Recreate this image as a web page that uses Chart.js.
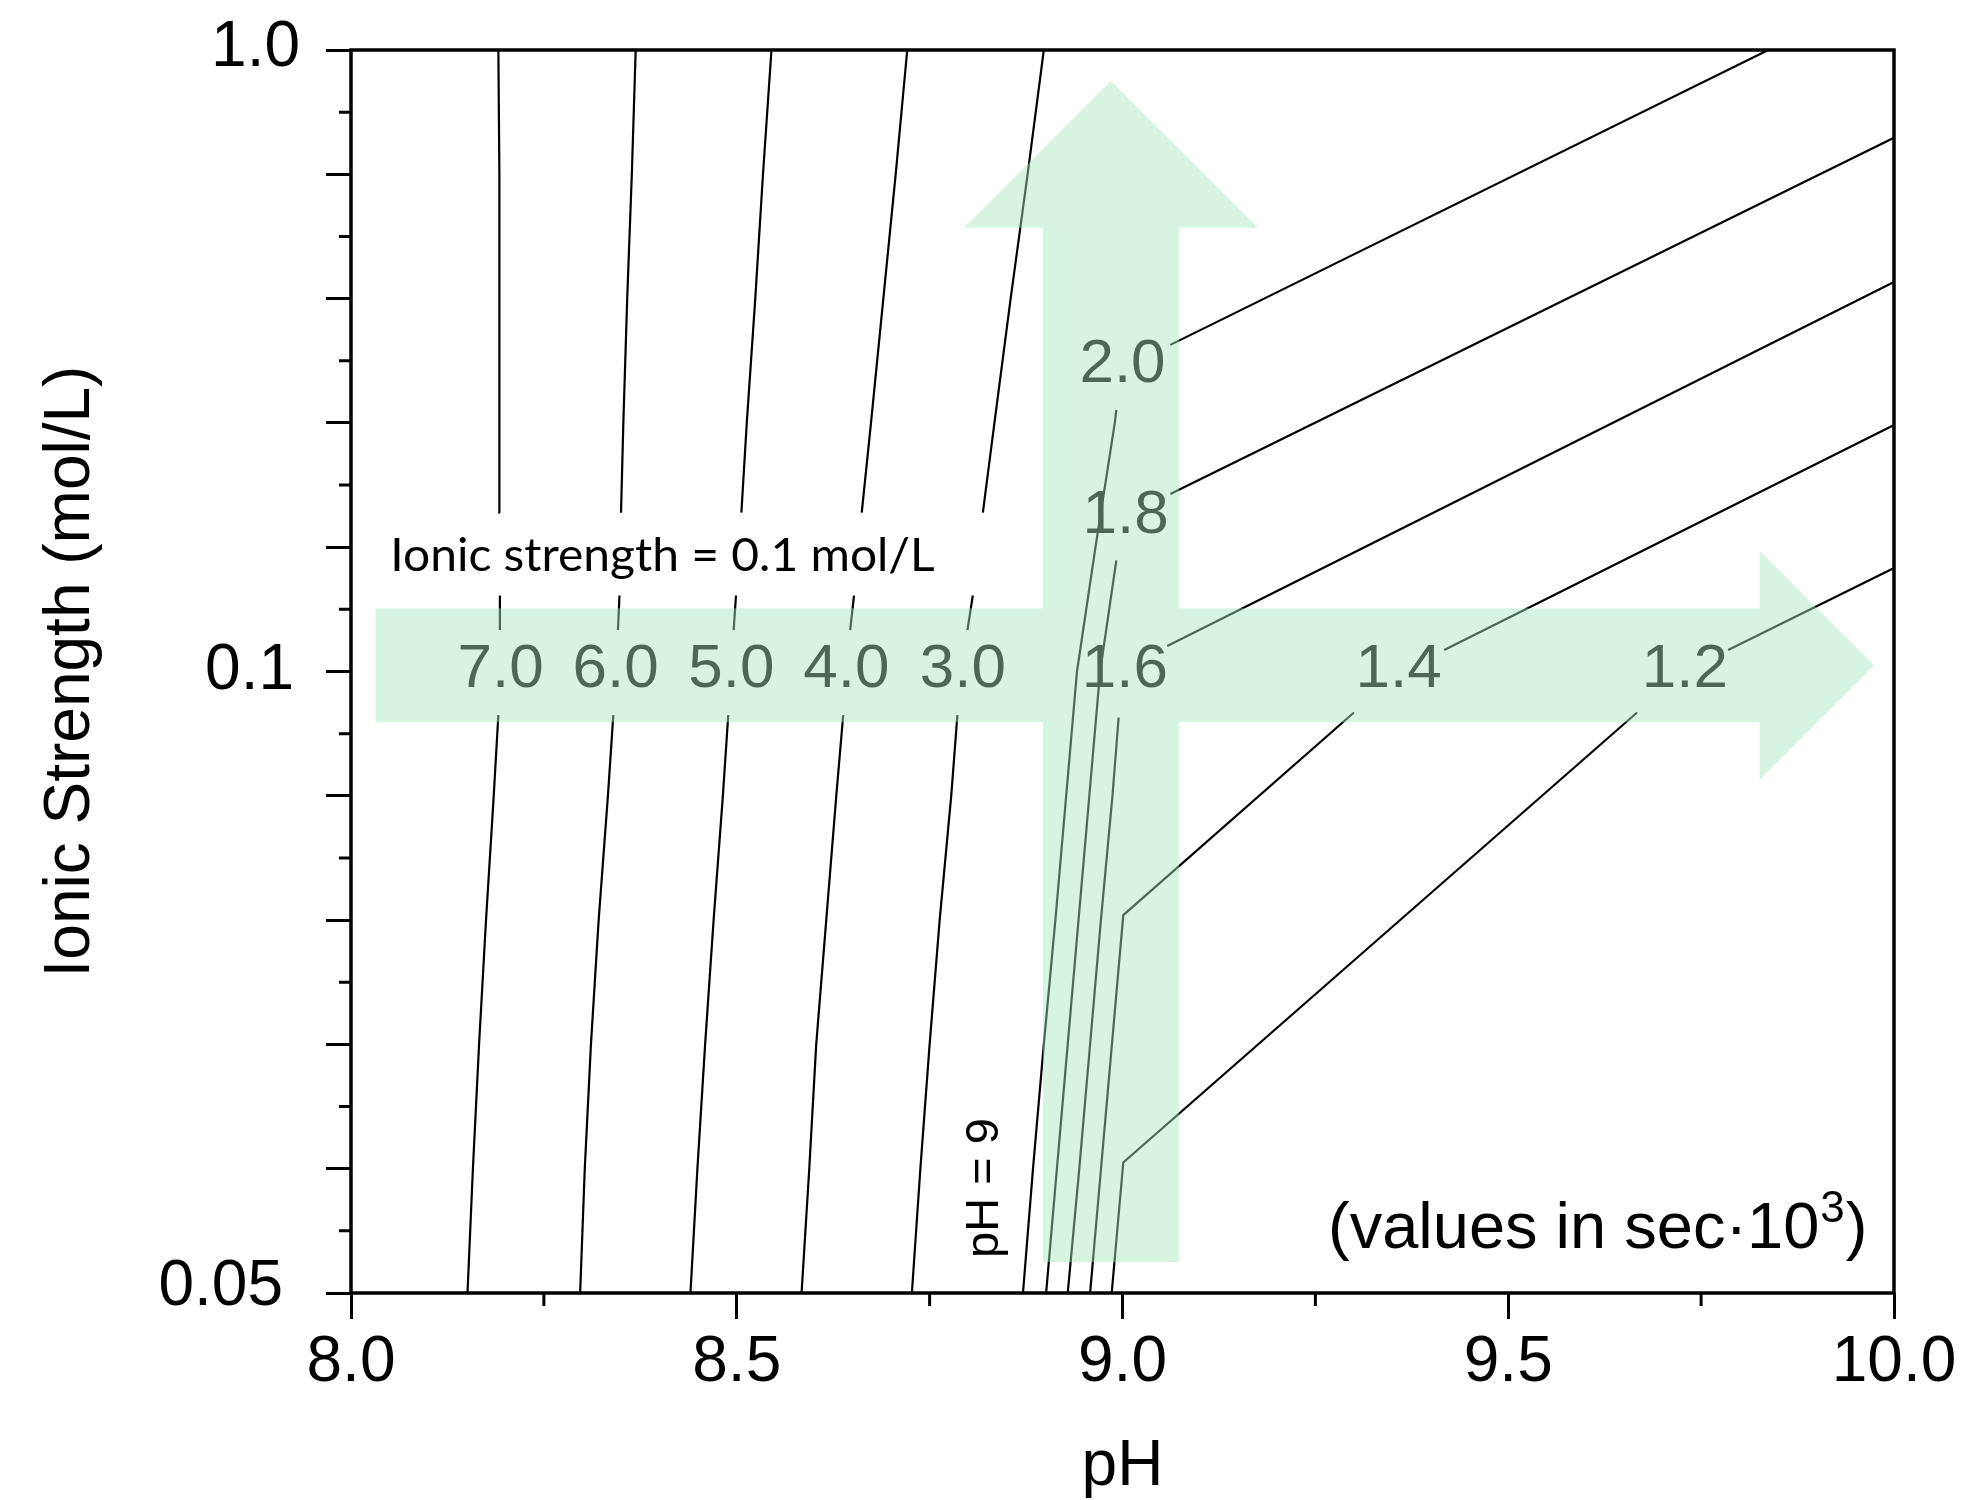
<!DOCTYPE html>
<html>
<head>
<meta charset="utf-8">
<script src="https://cdn.jsdelivr.net/npm/chart.js"></script>
<style>
  html, body { margin: 0; padding: 0; background: #fff; }
  canvas { display: block; }
</style>
</head>
<body>
<canvas id="mycanvas" width="1966" height="1500"></canvas>
<script>
// contour levels, values in sec*10^3
var levels = ['7.0', '6.0', '5.0', '4.0', '3.0', '2.0', '1.8', '1.6', '1.4', '1.2'];

// axis ticks
var xMajor = [8.0, 8.5, 9.0, 9.5, 10.0];
var xMinor = [8.25, 8.75, 9.25, 9.75];
var yTickText = ['0.05', '0.1', '1.0'];
var yTickIonic = [0.05, 0.1, 1.0];

// contour vertices: pH and ionic strength (mol/L), null = break for a label
var ionLeft = [0.05, 0.06, 0.07, 0.08, 0.09, 0.0965, null, 0.16, 0.21, null, 0.33, 0.46, 0.64, 0.82, 1.0];
var ph70 = [8.151, 8.158, 8.166, 8.175, 8.185, 8.191, null, 8.193, 8.193, null, 8.193, 8.193, 8.192, 8.192, 8.191];
var ph60 = [8.297, 8.303, 8.311, 8.321, 8.333, 8.340, null, 8.346, 8.348, null, 8.350, 8.353, 8.358, 8.364, 8.369];
var ph50 = [8.440, 8.449, 8.459, 8.470, 8.482, 8.489, null, 8.496, 8.499, null, 8.506, 8.513, 8.524, 8.534, 8.545];
var ph40 = [8.584, 8.594, 8.603, 8.616, 8.629, 8.638, null, 8.647, 8.652, null, 8.662, 8.674, 8.690, 8.706, 8.721];
var ph30 = [8.727, 8.738, 8.750, 8.763, 8.778, 8.786, null, 8.799, 8.806, null, 8.819, 8.834, 8.855, 8.877, 8.898];

var ph20 = [8.871, 8.884, 8.898, 8.913, 8.927, 8.941, 8.965, 8.990, 8.992, null, 9.062, 9.837];
var ion20 = [0.05, 0.06, 0.07, 0.08, 0.09, 0.10, 0.28, 0.46, 0.479, null, 0.573, 1.0];
var ph18 = [8.901, 8.915, 8.929, 8.943, 8.957, 8.971, 8.992, null, 9.062, 10.0];
var ion18 = [0.05, 0.06, 0.07, 0.08, 0.09, 0.10, 0.261, null, 0.357, 0.873];
var ph16 = [8.929, 8.944, 8.958, 8.972, 8.987, 8.995, null, 9.058, 10.0];
var ion16 = [0.05, 0.06, 0.07, 0.08, 0.09, 0.0963, null, 0.137, 0.664];
var ph14 = [8.958, 9.001, 9.300, null, 9.417, 10.0];
var ion14 = [0.05, 0.0804, 0.0967, null, 0.1311, 0.457];
var ph12 = [8.986, 9.001, 9.667, null, 9.785, 10.0];
var ion12 = [0.05, 0.0605, 0.0967, null, 0.1311, 0.2499];

// where each level label sits
var labelPH = [8.194, 8.343, 8.493, 8.642, 8.793, 9.000, 9.004, 9.003, 9.358, 9.729];
var labelIonic = [0.109, 0.109, 0.109, 0.109, 0.109, 0.551, 0.333, 0.109, 0.109, 0.109];

var FONT = '"Liberation Sans", Arial, Helvetica, sans-serif';
Chart.defaults.font.family = FONT;
Chart.defaults.color = '#000';

// the y axis is split: 0.05-0.1 on the lower half, 0.1-1.0 on the upper half
function toAxis(ion) {
	if (ion === null) return null;
	return ion <= 0.1 ? (ion - 0.05) / 0.005 : 10 + (ion - 0.1) / 0.09;
}

function makeLine(ph, ion) {
	var pts = [];
	for (var i = 0; i < ph.length; i++) {
		pts.push({x: ph[i], y: toAxis(ion[i])});
	}
	return {
		data: pts,
		showLine: true,
		borderColor: '#000',
		borderWidth: 2.2,
		pointRadius: 0,
		fill: false,
		spanGaps: false,
		tension: 0
	};
}

var datasets = [
	makeLine(ph70, ionLeft),
	makeLine(ph60, ionLeft),
	makeLine(ph50, ionLeft),
	makeLine(ph40, ionLeft),
	makeLine(ph30, ionLeft),
	makeLine(ph20, ion20),
	makeLine(ph18, ion18),
	makeLine(ph16, ion16),
	makeLine(ph14, ion14),
	makeLine(ph12, ion12)
];

// small nudges of the y tick labels, as in the original figure
var yLabelDx = [-17, -6, 0];
var yLabelDy = [-6, 0, -2];

var decor = {
	id: 'decor',
	afterDatasetsDraw: function(chart) {
		var ctx = chart.ctx, a = chart.chartArea;
		var xs = chart.scales.x, ys = chart.scales.y;
		ctx.save();

		// level labels (they end up under the green arrows)
		ctx.fillStyle = '#000';
		ctx.font = '62px ' + FONT;
		ctx.textAlign = 'center';
		ctx.textBaseline = 'alphabetic';
		for (var i = 0; i < levels.length; i++) {
			var px = xs.getPixelForValue(labelPH[i]);
			var py = ys.getPixelForValue(toAxis(labelIonic[i]));
			ctx.fillText(levels[i], px, py + 0.358 * 62);
		}

		// green arrows, one path so the crossing is not doubled
		var hy = ys.getPixelForValue(10.1);
		var hx0 = xs.getPixelForValue(8.032), hx1 = xs.getPixelForValue(9.826), hxt = xs.getPixelForValue(9.974);
		var vx = xs.getPixelForValue(8.985);
		var vy0 = ys.getPixelForValue(0.5), vy1 = ys.getPixelForValue(17.14), vyt = ys.getPixelForValue(19.5);
		ctx.beginPath();
		ctx.moveTo(hx0, hy - 57);
		ctx.lineTo(hx1, hy - 57);
		ctx.lineTo(hx1, hy - 114);
		ctx.lineTo(hxt, hy);
		ctx.lineTo(hx1, hy + 114);
		ctx.lineTo(hx1, hy + 57);
		ctx.lineTo(hx0, hy + 57);
		ctx.closePath();
		ctx.moveTo(vx - 68, vy0);
		ctx.lineTo(vx - 68, vy1);
		ctx.lineTo(vx - 147, vy1);
		ctx.lineTo(vx, vyt);
		ctx.lineTo(vx + 147, vy1);
		ctx.lineTo(vx + 68, vy1);
		ctx.lineTo(vx + 68, vy0);
		ctx.closePath();
		ctx.fillStyle = 'rgba(165, 230, 190, 0.45)';
		ctx.fill('nonzero');

		// "Ionic strength = 0.1 mol/L"
		var txt = 'Ionic strength = 0.1 mol/L';
		ctx.fillStyle = '#000';
		ctx.font = '46px Lato, "Open Sans", sans-serif';
		ctx.textAlign = 'left';
		var m = ctx.measureText(txt);
		var inkW = m.actualBoundingBoxLeft + m.actualBoundingBoxRight;
		ctx.save();
		ctx.translate(a.left + 43.5, a.top + 521);
		ctx.scale(539.5 / inkW, 1);
		ctx.fillText(txt, m.actualBoundingBoxLeft, 0);
		ctx.restore();

		// "pH = 9"
		ctx.save();
		ctx.font = '47px ' + FONT;
		ctx.textAlign = 'center';
		ctx.translate(a.left + 647, a.top + 1138);
		ctx.rotate(-Math.PI / 2);
		ctx.fillText('pH = 9', 0, 0);
		ctx.restore();

		// "(values in sec·10³)"
		var bx = a.left + 977, by = a.top + 1198;
		var s1 = '(values in sec\u00b710';
		ctx.font = '65px ' + FONT;
		ctx.textAlign = 'left';
		ctx.fillText(s1, bx, by);
		var w1 = ctx.measureText(s1).width;
		ctx.font = '44px ' + FONT;
		ctx.fillText('3', bx + w1 + 1, by - 26);
		var w2 = ctx.measureText('3').width;
		ctx.font = '65px ' + FONT;
		ctx.fillText(')', bx + w1 + w2 + 2, by);

		ctx.restore();
	},
	afterDraw: function(chart) {
		var ctx = chart.ctx, a = chart.chartArea;
		var xs = chart.scales.x, ys = chart.scales.y;
		ctx.save();

		// y tick labels, placed on the y scale
		ctx.fillStyle = '#000';
		ctx.font = '64px ' + FONT;
		ctx.textAlign = 'right';
		ctx.textBaseline = 'middle';
		for (var k = 0; k < yTickText.length; k++) {
			var ty = ys.getPixelForValue(toAxis(yTickIonic[k]));
			ctx.fillText(yTickText[k], a.left - 51 + yLabelDx[k], ty + yLabelDy[k]);
		}

		// minor ticks and the frame
		ctx.strokeStyle = '#000';
		ctx.lineWidth = 3;
		ctx.beginPath();
		for (var i = 0; i < xMinor.length; i++) {
			var px = xs.getPixelForValue(xMinor[i]);
			ctx.moveTo(px, a.bottom);
			ctx.lineTo(px, a.bottom + 13);
		}
		for (var u = 1; u < 20; u += 2) {
			var py = ys.getPixelForValue(u);
			ctx.moveTo(a.left - 12, py);
			ctx.lineTo(a.left, py);
		}
		ctx.stroke();
		ctx.lineWidth = 3.5;
		ctx.strokeRect(a.left, a.top, a.right - a.left, a.bottom - a.top);
		ctx.restore();
	}
};

var ctx = document.getElementById('mycanvas').getContext('2d');

var contourChart = new Chart(ctx, {
	type: 'scatter',
	data: { datasets: datasets },
	options: {
		responsive: false,
		animation: false,
		devicePixelRatio: 1,
		layout: { padding: { top: 50, right: 72, left: 0, bottom: 0 } },
		plugins: {
			legend: { display: false },
			tooltip: { enabled: false }
		},
		scales: {
			x: {
				type: 'linear',
				min: 8,
				max: 10,
				afterBuildTicks: function(s) {
					s.ticks = xMajor.map(function(v) { return {value: v}; });
				},
				afterFit: function(s) { s.height = 207; },
				ticks: {
					autoSkip: false,
					maxRotation: 0,
					padding: 6,
					font: { size: 64 },
					color: '#000',
					callback: function(v) { return v.toFixed(1); }
				},
				grid: {
					display: true,
					drawOnChartArea: false,
					drawTicks: true,
					tickLength: 26,
					tickWidth: 3,
					tickColor: '#000'
				},
				border: { display: false },
				title: {
					display: true,
					text: 'pH',
					font: { size: 64 },
					color: '#000',
					padding: { top: 0, bottom: -6 }
				}
			},
			y: {
				type: 'linear',
				min: 0,
				max: 20,
				afterBuildTicks: function(s) {
					var t = [];
					for (var u = 0; u <= 20; u += 2) t.push({value: u});
					s.ticks = t;
				},
				afterFit: function(s) { s.width = 351; },
				ticks: { display: false },
				grid: {
					display: true,
					drawOnChartArea: false,
					drawTicks: true,
					tickLength: 25,
					tickWidth: 3,
					tickColor: '#000'
				},
				border: { display: false },
				title: {
					display: true,
					text: 'Ionic Strength (mol/L)',
					font: { size: 64 },
					color: '#000',
					padding: { top: 33, bottom: 0 }
				}
			}
		}
	},
	plugins: [decor]
});
</script>
</body>
</html>
